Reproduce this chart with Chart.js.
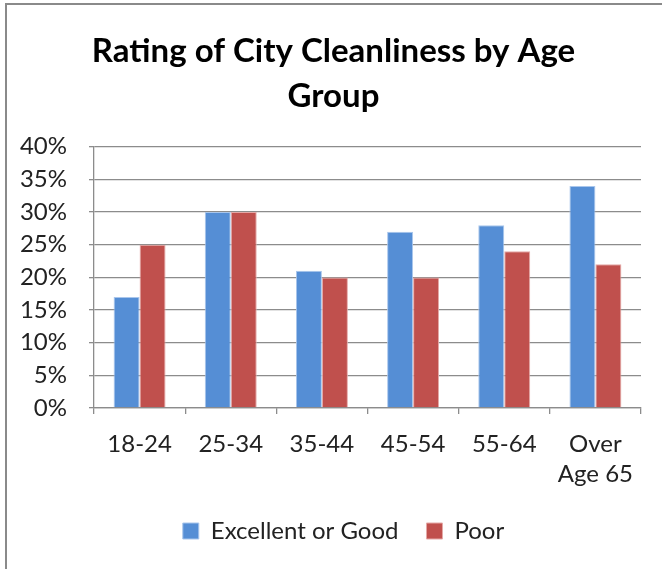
<!DOCTYPE html>
<html>
<head>
<meta charset="utf-8">
<script src="https://cdn.jsdelivr.net/npm/chart.js@4/dist/chart.umd.min.js"></script>
<style>
  html, body { margin: 0; padding: 0; background: #fff; }
  #wrap { position: relative; width: 662px; height: 569px; overflow: hidden; }
  #frame { position: absolute; left: 5px; top: 3px; width: 700px; height: 600px;
           border-left: 2px solid #8a8a8a; border-top: 2px solid #8a8a8a; box-sizing: border-box; }
  canvas { position: absolute; left: 0; top: 0; }
</style>
</head>
<body>
<div id="wrap">
  <div id="frame"></div>
  <canvas id="chart" width="662" height="569"></canvas>
</div>
<script>
const ageGroups = ['18-24', '25-34', '35-44', '45-54', '55-64', ['Over', 'Age 65']];
const excellentOrGood = [17, 30, 21, 27, 28, 34];
const poor = [25, 30, 20, 20, 24, 22];
const yTicks = [0, 5, 10, 15, 20, 25, 30, 35, 40];

const fontFamily = 'Lato, "Open Sans", sans-serif';
const gridGray = '#8c8c8c';

Chart.defaults.font.family = fontFamily;
Chart.defaults.color = '#222';

// title and legend sit centred on the whole frame, not the plot, so nudge them right
const nudgeBlocks = {
    id: 'nudgeBlocks',
    afterLayout(chart) {
        const shift = (box, dx) => { if (box) { box.left += dx; box.right += dx; } };
        shift(chart.titleBlock, 9);
        shift(chart.legend, 19);
    }
};

const ctx = document.getElementById('chart').getContext('2d');
new Chart(ctx, {
    type: 'bar',
    data: {
        labels: ageGroups,
        datasets: [{
            label: 'Excellent or Good',
            data: excellentOrGood,
            backgroundColor: '#558ed5',
            borderColor: '#a9c6ec',
            borderWidth: 1
        }, {
            label: 'Poor',
            data: poor,
            backgroundColor: '#c0504d',
            borderColor: '#e5a9a7',
            borderWidth: 1
        }]
    },
    options: {
        responsive: false,
        animation: false,
        layout: { padding: { left: 8, right: 21, top: 29, bottom: 16 } },
        datasets: { bar: { categoryPercentage: 0.57, barPercentage: 1 } },
        plugins: {
            title: {
                display: true,
                text: ['Rating of City Cleanliness by Age', 'Group'],
                font: { size: 33, weight: 'bold', lineHeight: 1.36 },
                color: '#000',
                padding: { top: 0, bottom: 28 }
            },
            legend: {
                position: 'bottom',
                labels: {
                    boxWidth: 16,
                    boxHeight: 16,
                    padding: 28,
                    font: { size: 24 },
                    color: '#222'
                }
            },
            tooltip: { enabled: false }
        },
        scales: {
            x: {
                grid: { offset: true, drawOnChartArea: false, drawTicks: true, tickLength: 6, color: gridGray, lineWidth: 1.3 },
                border: { color: gridGray, width: 1.3 },
                ticks: { font: { size: 24, lineHeight: 1.25 }, color: '#222', padding: 15, maxRotation: 0 },
                afterFit: s => { s.height = 83; }
            },
            y: {
                min: 0,
                max: 40,
                afterBuildTicks: s => { s.ticks = yTicks.map(v => ({ value: v })); },
                grid: { color: gridGray, lineWidth: 1.3, tickLength: 5 },
                border: { color: gridGray, width: 1.3 },
                ticks: { font: { size: 24 }, color: '#222', padding: 22, callback: v => v + '%' },
                afterFit: s => { s.width = 86; }
            }
        }
    },
    plugins: [nudgeBlocks]
});
</script>
</body>
</html>
